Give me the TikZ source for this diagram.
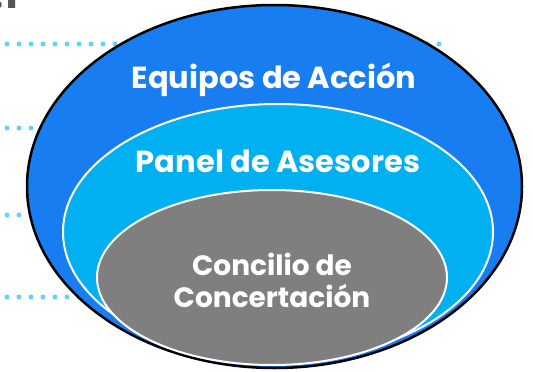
\documentclass[tikz,border=0pt]{standalone}
\usepackage{fontspec}
\setmainfont{Poppins}
\usepackage{tikz}

\definecolor{accionblue}{RGB}{23,125,240}
\definecolor{panelcyan}{RGB}{0,176,240}
\definecolor{conciliogray}{RGB}{127,127,127}
\definecolor{dotcyan}{RGB}{102,208,247}
\definecolor{titlegray}{RGB}{85,85,85}

\tikzset{
  dotline/.style={dotcyan, line width=5pt, line cap=round, dash pattern=on 0pt off 12pt},
  ringlabel/.style={text=white, font=\bfseries\fontsize{30.5}{34}\selectfont, align=center},
  corelabel/.style={text=white, font=\bfseries\fontsize{28}{32}\selectfont, align=center}
}

\begin{document}
\begin{tikzpicture}[x=1pt,y=-1pt]
      \useasboundingbox (0,0) rectangle (533,372);
      % cut-off heading
      \node[anchor=base east, inner sep=0pt, text=titlegray, font=\bfseries\fontsize{40}{40}\selectfont] (heading) at (19,9) {1.1};
      % dotted guide lines
      \foreach \yrow/\xend in {44/439, 128/259, 215/259, 297/259} {\draw[dotline] (7,\yrow) -- (\xend,\yrow); }
      % rings
      \draw[fill=accionblue, draw=black, line width=2.5pt] (274.5,186.5) ellipse [x radius=247.5, y radius=181.5];
      \draw[fill=panelcyan, draw=white, line width=2pt] (278,232) ellipse [x radius=215, y radius=128];
      \draw[fill=conciliogray, draw=white, line width=2pt] (272,277.5) ellipse [x radius=175, y radius=87.5];
      \node[ringlabel] (accion) at (274,80) {Equipos de Acción};
      \node[ringlabel] (panel) at (278,161) {Panel de Asesores};
      \node[corelabel] (concilio) at (272,280) {Concilio de\\Concertación};
   \end{tikzpicture}
\end{document}
